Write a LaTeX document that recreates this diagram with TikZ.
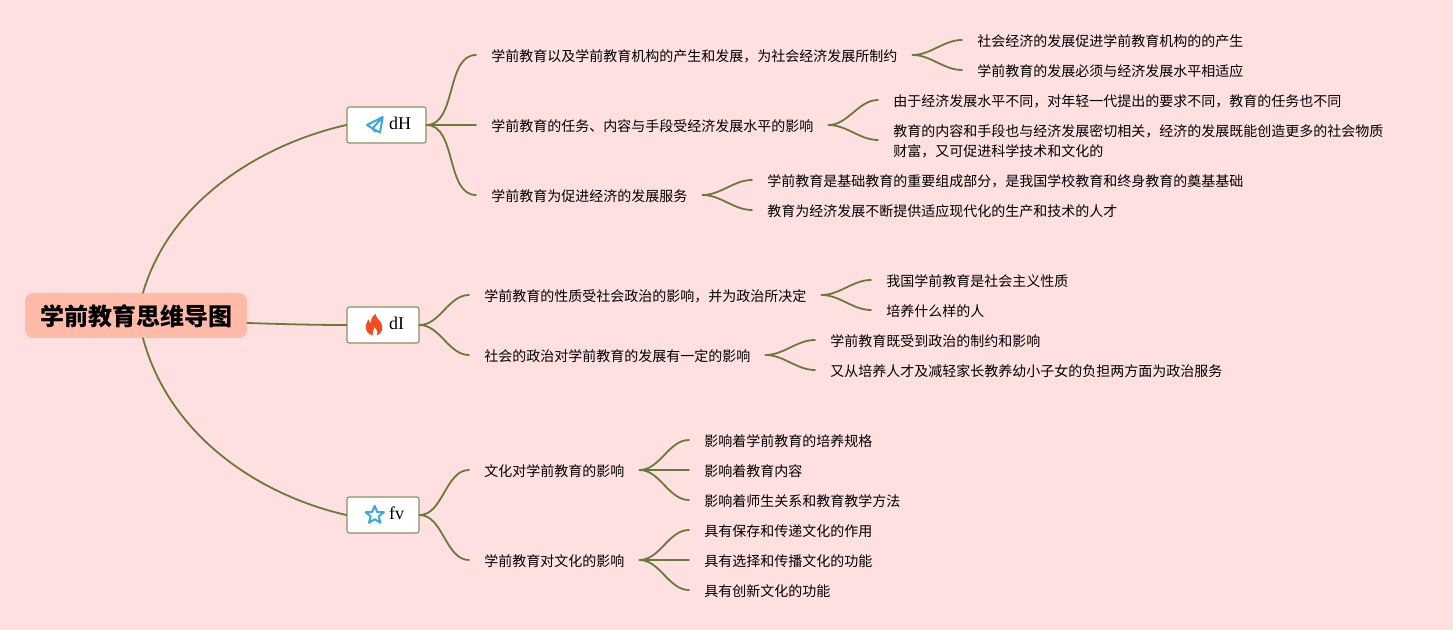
\documentclass[tikz,border=0pt]{standalone}
\usepackage{fontspec}
\setmainfont{Noto Sans CJK SC}
\newfontfamily\latinserif{Liberation Serif}
\usetikzlibrary{calc}
\definecolor{bgpink}{HTML}{FFE0E0}
\definecolor{rootfill}{HTML}{FFBBA8}
\definecolor{olive}{HTML}{6B7A3A}
\definecolor{topicedge}{HTML}{8A9160}
\definecolor{iconblue}{HTML}{3BA7E3}
\definecolor{flame}{HTML}{F9491E}
\tikzset{
  x=0.75pt,y=-0.75pt,
  rootbox/.style={fill=rootfill,rounded corners=6pt,minimum width=166.5pt,minimum height=33.75pt,inner sep=0pt,text height=16.5pt,text depth=1.5pt,font=\fontsize{18}{22}\selectfont\bfseries},
  topic/.style={draw=topicedge,fill=white,line width=0.8pt,rounded corners=1.5pt,minimum height=27pt,inner xsep=11.25pt,inner ysep=0pt,text height=9pt,text depth=2.2pt,font=\latinserif\fontsize{13.5}{16}\selectfont},
  item/.style={anchor=west,inner xsep=11.25pt,inner ysep=0pt,align=left,text height=10.7pt,text depth=1.5pt,font=\fontsize{10.5}{15}\selectfont},
  twolines/.style={text height=25.7pt},
  conn/.style={draw=olive,line width=1.35pt,line cap=round},
  link/.style={conn,out=0,in=180,looseness=0.9},
  iconline/.style={draw=iconblue,line width=1.5pt,line join=round,line cap=round},
}
\newcommand{\tgap}{\hspace*{20.25pt}}
\begin{document}
\begin{tikzpicture}
\useasboundingbox (0,0) rectangle (1453,630);
\fill[bgpink] (0,0) rectangle (1453,630);

\node[rootbox] (root) at (136,315.5) {学前教育思维导图};
\node[topic] (t1) at (386.5,125) {\tgap dH};
\node[topic] (t2) at (383,325) {\tgap dI};
\node[topic] (t3) at (383,515) {\tgap fv};

\node[item] (a1) at (476,55) {学前教育以及学前教育机构的产生和发展，为社会经济发展所制约};
\node[item] (a2) at (476,125) {学前教育的任务、内容与手段受经济发展水平的影响};
\node[item] (a3) at (476,195) {学前教育为促进经济的发展服务};
\node[item] (a11) at (962,40) {社会经济的发展促进学前教育机构的的产生};
\node[item] (a12) at (962,70) {学前教育的发展必须与经济发展水平相适应};
\node[item] (a21) at (878,100) {由于经济发展水平不同，对年轻一代提出的要求不同，教育的任务也不同};
\node[item,twolines] (a22) at (878,140) {教育的内容和手段也与经济发展密切相关，经济的发展既能创造更多的社会物质\\财富，又可促进科学技术和文化的};
\node[item] (a31) at (752,180) {学前教育是基础教育的重要组成部分，是我国学校教育和终身教育的奠基基础};
\node[item] (a32) at (752,210) {教育为经济发展不断提供适应现代化的生产和技术的人才};

\node[item] (b1) at (469,295) {学前教育的性质受社会政治的影响，并为政治所决定};
\node[item] (b2) at (469,355) {社会的政治对学前教育的发展有一定的影响};
\node[item] (b11) at (871,280) {我国学前教育是社会主义性质};
\node[item] (b12) at (871,310) {培养什么样的人};
\node[item] (b21) at (815,340) {学前教育既受到政治的制约和影响};
\node[item] (b22) at (815,370) {又从培养人才及减轻家长教养幼小子女的负担两方面为政治服务};

\node[item] (c1) at (469,470) {文化对学前教育的影响};
\node[item] (c2) at (469,560) {学前教育对文化的影响};
\node[item] (c11) at (689,440) {影响着学前教育的培养规格};
\node[item] (c12) at (689,470) {影响着教育内容};
\node[item] (c13) at (689,500) {影响着师生关系和教育教学方法};
\node[item] (c21) at (689,530) {具有保存和传递文化的作用};
\node[item] (c22) at (689,560) {具有选择和传播文化的功能};
\node[item] (c23) at (689,590) {具有创新文化的功能};

% root connectors
\draw[conn] ($(root.north)+(7,0)$) .. controls (170,200) and (262,144) .. (t1.west);
\draw[conn] (root.east |- 0,323) .. controls (280,324) and (310,325) .. (t2.west);
\draw[conn] ($(root.south)+(7,0)$) .. controls (170,438) and (262,496) .. (t3.west);

% topic connectors
\foreach \p/\c in {t1/a1,t1/a2,t1/a3,t2/b1,t2/b2,t3/c1,t3/c2,
  a1/a11,a1/a12,a2/a21,a2/a22,a3/a31,a3/a32,
  b1/b11,b1/b12,b2/b21,b2/b22,
  c1/c11,c1/c12,c1/c13,c2/c21,c2/c22,c2/c23}
  \draw[link] (\p.east) to (\c.west);

% paper plane icon
\draw[iconline] (382.7,117) -- (367,125) -- (372.5,128.5) -- (380,132.5) -- cycle
  (382.7,117) -- (372.5,128.5) -- (375,131.5) -- (376.5,130.5);
% flame icon
\fill[flame] (375.5,314) .. controls (376.5,319) and (380,320) .. (381.5,324)
  .. controls (383.5,329) and (381.5,334) .. (376.5,335.5)
  .. controls (378.5,332) and (377,329) .. (374.5,327)
  .. controls (373.5,330) and (372,332) .. (372.5,335.5)
  .. controls (368,334.5) and (365,330) .. (366,325)
  .. controls (366.5,322.5) and (367.5,321) .. (368.5,319.5)
  .. controls (369,321.5) and (370,322.5) .. (371,323)
  .. controls (370.5,319.5) and (372.5,316) .. (375.5,314) -- cycle;
% star icon
\draw[iconline] (374.7,505.8) -- (377.2,512) -- (383.9,512.2) -- (378.7,516.4) -- (380.4,522.8)
  -- (374.7,519.2) -- (369,522.8) -- (370.7,516.4) -- (365.5,512.2) -- (372.2,512) -- cycle;
\end{tikzpicture}
\end{document}
